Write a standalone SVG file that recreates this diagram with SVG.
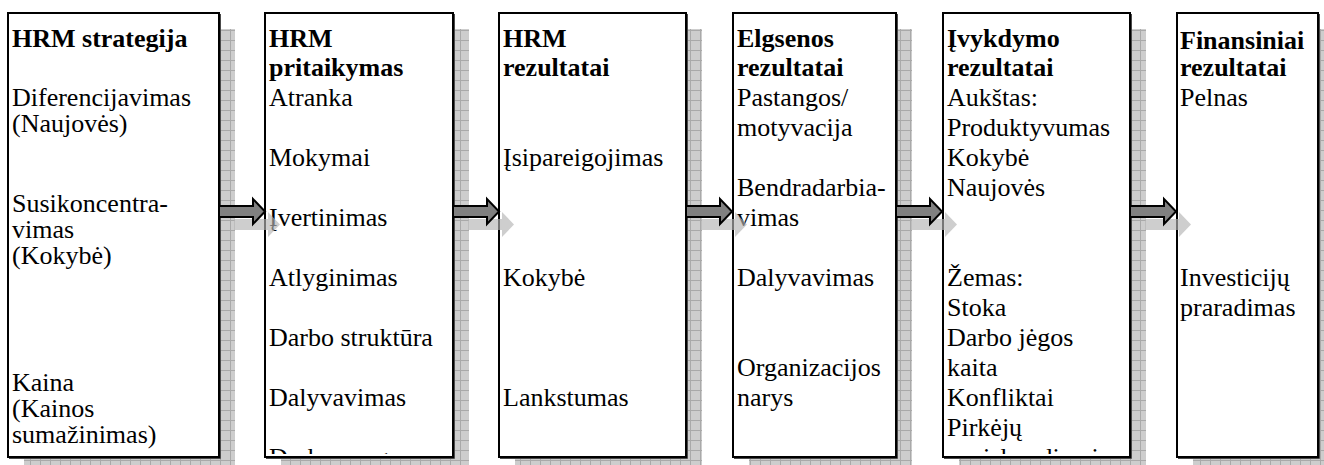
<svg xmlns="http://www.w3.org/2000/svg" xmlns:xlink="http://www.w3.org/1999/xlink" width="1324" height="465" viewBox="0 0 1324 465">
  <style>
    .box { fill: #ffffff; stroke: #000000; stroke-width: 2; }
    .edge { fill: none; stroke: #4a4a4a; stroke-width: 1; }
    .shadow { fill: url(#grid); }
    text { font-family: "Liberation Serif", "Times New Roman", serif; font-size: 26px; fill: #000000; }
    .b { font-weight: bold; }
    .arrow { fill: #808080; stroke: #000000; stroke-width: 2; stroke-linejoin: miter; }
    .arrow-shadow { fill: #b4b4b4; opacity: 0.65; }
  </style>
  <defs>
    <pattern id="grid" width="10" height="10" patternUnits="userSpaceOnUse">
      <rect width="10" height="10" fill="#cdcdcd"/>
      <path d="M0,0.5 H10 M0.5,0 V10" stroke="#a9a9a9" stroke-width="1"/>
    </pattern>
    <path id="arr" d="M0,206 H34 V199 L46,211.5 L34,224 V217 H0 Z"/>
    <clipPath id="clip2"><rect x="266" y="14" width="186" height="440"/></clipPath>
    <clipPath id="clip5"><rect x="944" y="14" width="185" height="440"/></clipPath>
  </defs>

  <!-- drop shadows behind the boxes -->
  <g id="shadows">
    <rect class="shadow" x="24" y="29" width="211" height="444"/>
    <rect class="shadow" x="281" y="29" width="188" height="444"/>
    <rect class="shadow" x="515" y="29" width="187" height="444"/>
    <rect class="shadow" x="749" y="29" width="163" height="444"/>
    <rect class="shadow" x="959" y="29" width="187" height="444"/>
    <rect class="shadow" x="1193" y="29" width="141" height="444"/>
  </g>

  <g id="node-strategija">
    <rect class="box" x="8" y="13" width="211" height="444"/>
    <path class="edge" d="M220.5,14 V458.5 H9"/>
    <text class="b" x="12" y="47">HRM strategija</text>
    <text x="12" y="106">Diferencijavimas</text>
    <text x="12" y="132">(Naujovės)</text>
    <text x="12" y="212">Susikoncentra-</text>
    <text x="12" y="238">vimas</text>
    <text x="12" y="264">(Kokybė)</text>
    <text x="12" y="391">Kaina</text>
    <text x="12" y="417">(Kainos</text>
    <text x="12" y="443">sumažinimas)</text>
  </g>

  <g id="node-pritaikymas">
    <rect class="box" x="265" y="13" width="188" height="444"/>
    <path class="edge" d="M454.5,14 V458.5 H266"/>
    <text class="b" x="269" y="47">HRM</text>
    <text class="b" x="269" y="76">pritaikymas</text>
    <text x="269" y="106">Atranka</text>
    <text x="269" y="166">Mokymai</text>
    <text x="269" y="226">Įvertinimas</text>
    <text x="269" y="286">Atlyginimas</text>
    <text x="269" y="346">Darbo struktūra</text>
    <text x="269" y="406">Dalyvavimas</text>
    <text x="269" y="466" clip-path="url(#clip2)">Darbo saugumas</text>
  </g>

  <g id="node-hrm-rezultatai">
    <rect class="box" x="499" y="13" width="187" height="444"/>
    <path class="edge" d="M687.5,14 V458.5 H500"/>
    <text class="b" x="503" y="47">HRM</text>
    <text class="b" x="503" y="76">rezultatai</text>
    <text x="503" y="166">Įsipareigojimas</text>
    <text x="503" y="286">Kokybė</text>
    <text x="503" y="406">Lankstumas</text>
  </g>

  <g id="node-elgsenos">
    <rect class="box" x="733" y="13" width="163" height="444"/>
    <path class="edge" d="M897.5,14 V458.5 H734"/>
    <text class="b" x="737" y="47">Elgsenos</text>
    <text class="b" x="737" y="76">rezultatai</text>
    <text x="737" y="106">Pastangos/</text>
    <text x="737" y="136">motyvacija</text>
    <text x="737" y="196">Bendradarbia-</text>
    <text x="737" y="226">vimas</text>
    <text x="737" y="286">Dalyvavimas</text>
    <text x="737" y="376">Organizacijos</text>
    <text x="737" y="406">narys</text>
  </g>

  <g id="node-ivykdymo">
    <rect class="box" x="943" y="13" width="187" height="444"/>
    <path class="edge" d="M1131.5,14 V458.5 H944"/>
    <text class="b" x="947" y="47">Įvykdymo</text>
    <text class="b" x="947" y="76">rezultatai</text>
    <text x="947" y="106">Aukštas:</text>
    <text x="947" y="136">Produktyvumas</text>
    <text x="947" y="166">Kokybė</text>
    <text x="947" y="196">Naujovės</text>
    <text x="947" y="286">Žemas:</text>
    <text x="947" y="316">Stoka</text>
    <text x="947" y="346">Darbo jėgos</text>
    <text x="947" y="376">kaita</text>
    <text x="947" y="406">Konfliktai</text>
    <text x="947" y="436">Pirkėjų</text>
    <text x="947" y="466" clip-path="url(#clip5)">nusiskundimai</text>
  </g>

  <g id="node-finansiniai">
    <rect class="box" x="1177" y="13" width="141" height="444"/>
    <path class="edge" d="M1319.5,14 V458.5 H1178"/>
    <text class="b" x="1180" y="49">Finansiniai</text>
    <text class="b" x="1180" y="76">rezultatai</text>
    <text x="1180" y="106">Pelnas</text>
    <text x="1180" y="286">Investicijų</text>
    <text x="1180" y="316">praradimas</text>
  </g>

  <!-- block arrows between the stages, each with a faint offset shadow -->
  <g id="connectors">
    <use href="#arr" xlink:href="#arr" class="arrow-shadow" transform="translate(234,13)"/>
    <use href="#arr" xlink:href="#arr" class="arrow-shadow" transform="translate(468,13)"/>
    <use href="#arr" xlink:href="#arr" class="arrow-shadow" transform="translate(701,13)"/>
    <use href="#arr" xlink:href="#arr" class="arrow-shadow" transform="translate(911,13)"/>
    <use href="#arr" xlink:href="#arr" class="arrow-shadow" transform="translate(1145,13)"/>
    <use href="#arr" xlink:href="#arr" class="arrow" transform="translate(219,0)"/>
    <use href="#arr" xlink:href="#arr" class="arrow" transform="translate(453,0)"/>
    <use href="#arr" xlink:href="#arr" class="arrow" transform="translate(686,0)"/>
    <use href="#arr" xlink:href="#arr" class="arrow" transform="translate(896,0)"/>
    <use href="#arr" xlink:href="#arr" class="arrow" transform="translate(1130,0)"/>
  </g>
</svg>
